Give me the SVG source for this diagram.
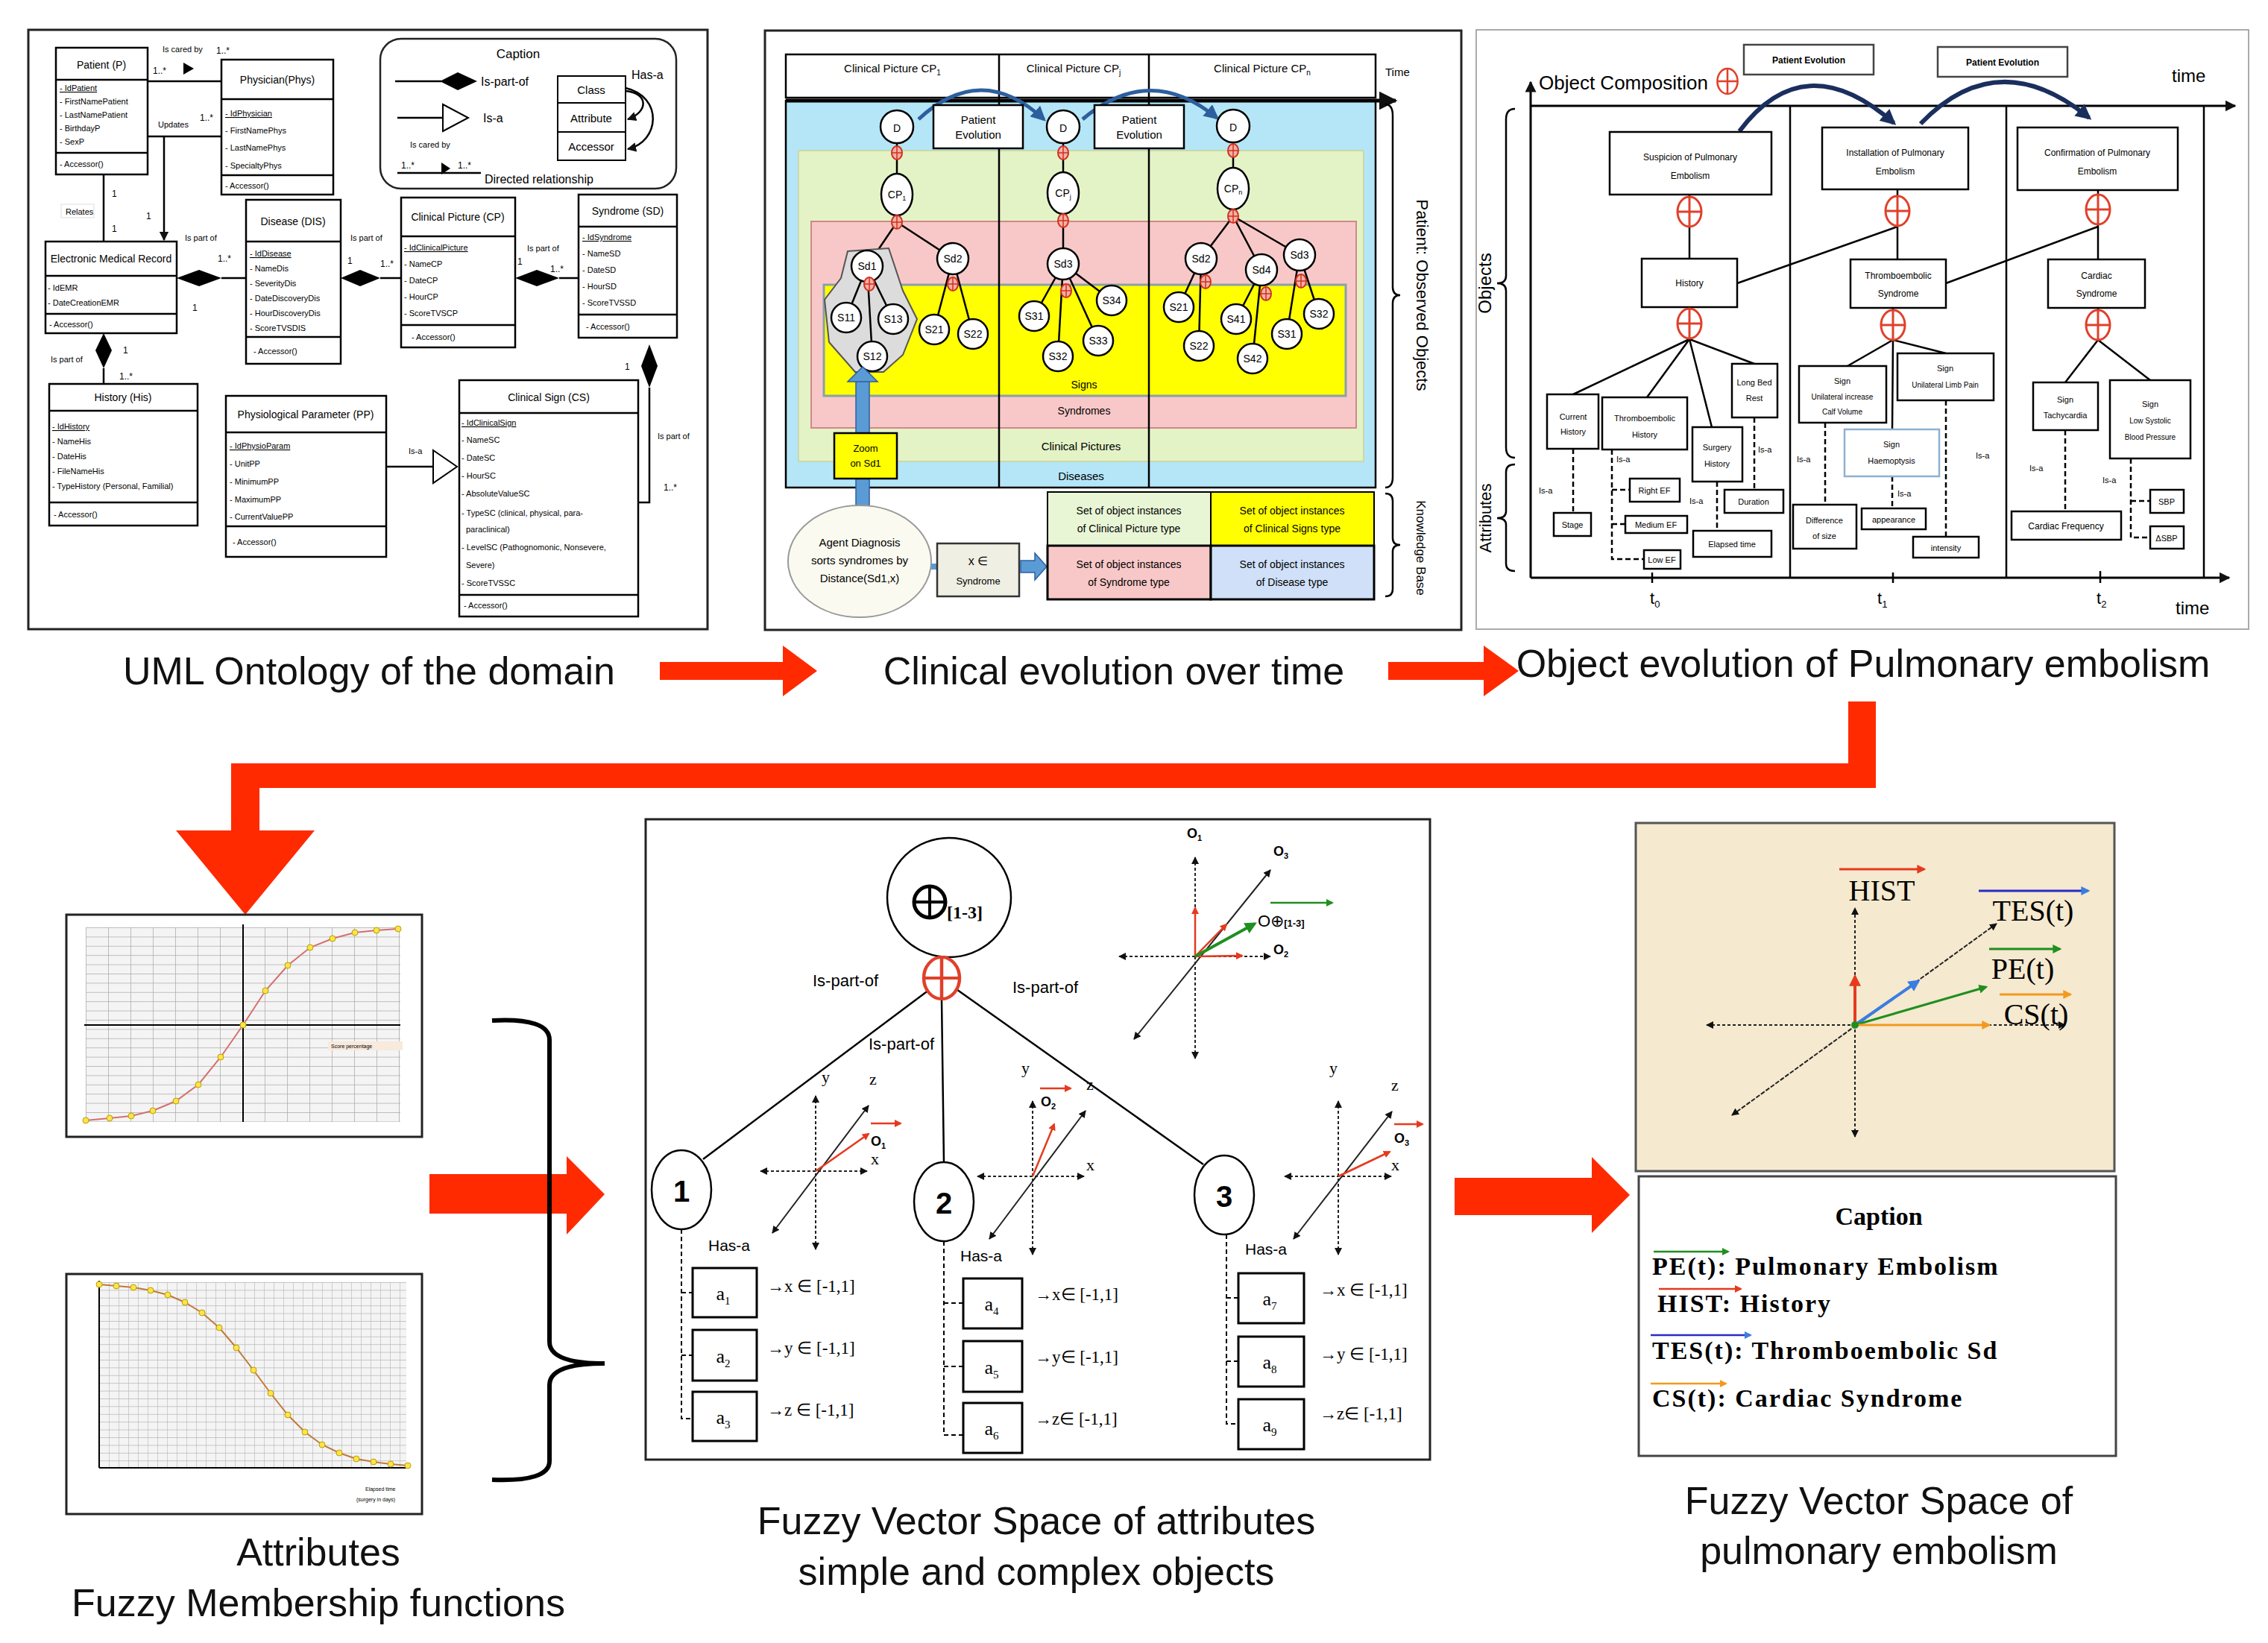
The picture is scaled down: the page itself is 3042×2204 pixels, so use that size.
<svg xmlns="http://www.w3.org/2000/svg" width="3042" height="2204" viewBox="0 0 3042 2204">
<style>
text{font-family:"Liberation Sans",Arial,sans-serif;fill:#000}
.u{font-size:11px}
.uh{font-size:14px;text-anchor:middle}
.m{font-size:11px}
.c{text-anchor:middle}
.box{fill:#fff;stroke:#000;stroke-width:2.5}
.ln{stroke:#000;stroke-width:2.5;fill:none}
.cap{font-size:52px;text-anchor:middle;fill:#111}
.nd{fill:#fff;stroke:#000;stroke-width:2.5}
.sn{font-size:14px;text-anchor:middle}
.p3{font-size:12px;text-anchor:middle}
.ax{stroke:#222;stroke-width:2;stroke-dasharray:4 3;fill:none}
.sf,.sf text{font-family:"Liberation Serif","Times New Roman",serif}
.redarrow{fill:#ff2a00}
</style>
<defs>
<marker id="ah" viewBox="0 0 10 10" refX="9" refY="5" markerWidth="5" markerHeight="5" orient="auto-start-reverse"><path d="M0,0L10,5L0,10z" fill="#111"/></marker>
<marker id="ab" viewBox="0 0 10 10" refX="8" refY="5" markerWidth="4" markerHeight="4" orient="auto"><path d="M0,0L10,5L0,10z" fill="#2d5f9e"/></marker>
<marker id="an" viewBox="0 0 10 10" refX="8" refY="5" markerWidth="3.5" markerHeight="3.5" orient="auto"><path d="M0,0L10,5L0,10z" fill="#1b2f5e"/></marker>
<marker id="ar" viewBox="0 0 10 10" refX="8" refY="5" markerWidth="4" markerHeight="4" orient="auto"><path d="M0,0L10,5L0,10z" fill="#e53a1e"/></marker>
<marker id="ag" viewBox="0 0 10 10" refX="8" refY="5" markerWidth="4" markerHeight="4" orient="auto"><path d="M0,0L10,5L0,10z" fill="#1f8f1f"/></marker>
<marker id="abl" viewBox="0 0 10 10" refX="8" refY="5" markerWidth="4" markerHeight="4" orient="auto"><path d="M0,0L10,5L0,10z" fill="#3a7de0"/></marker>
<marker id="ao" viewBox="0 0 10 10" refX="8" refY="5" markerWidth="4" markerHeight="4" orient="auto"><path d="M0,0L10,5L0,10z" fill="#f39a1e"/></marker>
<g id="op"><ellipse rx="16" ry="20" fill="#fff" stroke="#e0402a" stroke-width="3"/><line x1="-16" y1="0" x2="16" y2="0" stroke="#e0402a" stroke-width="3"/><line x1="0" y1="-20" x2="0" y2="20" stroke="#e0402a" stroke-width="3"/></g>
<g id="sp"><ellipse rx="7" ry="9" fill="#f4b0a8" stroke="#d0301c" stroke-width="2"/><line x1="-7" y1="0" x2="7" y2="0" stroke="#d0301c" stroke-width="1.5"/><line x1="0" y1="-9" x2="0" y2="9" stroke="#d0301c" stroke-width="1.5"/></g>
<pattern id="g1" width="30" height="12.4" patternUnits="userSpaceOnUse" x="115" y="1244"><rect width="30" height="12.4" fill="#f4f4f4"/><path d="M0,0H30M0,0V12.4" stroke="#aaa" stroke-width="1.5"/></pattern>
<pattern id="g2" width="13" height="10.4" patternUnits="userSpaceOnUse" x="133" y="1720"><rect width="13" height="10.4" fill="#f4f4f4"/><path d="M0,0H13M0,0V10.4" stroke="#b5b5b5" stroke-width="1.2"/></pattern>
</defs>

<!-- ============ PANEL 1 UML ============ -->
<g id="panel-uml">
<rect x="38" y="40" width="911" height="804" fill="#fff" stroke="#222" stroke-width="3"/>
<g id="uml-caption">
<rect x="510" y="52" width="397" height="201" rx="28" fill="#fff" stroke="#222" stroke-width="2.5"/>
<text x="695" y="78" class="c" font-size="17">Caption</text>
<line x1="530" y1="109" x2="592" y2="109" class="ln" stroke-width="4"/>
<polygon points="590,109 614,97 640,109 614,121" fill="#000"/>
<text x="645" y="115" font-size="16">Is-part-of</text>
<line x1="533" y1="158" x2="594" y2="158" class="ln"/>
<polygon points="594,140 628,158 594,176" fill="#fff" stroke="#000" stroke-width="2"/>
<text x="648" y="164" font-size="16">Is-a</text>
<text x="550" y="198" font-size="11">Is cared by</text>
<line x1="533" y1="232" x2="645" y2="232" class="ln"/>
<polygon points="592,218 604,226 592,234" fill="#000"/>
<text x="538" y="226" font-size="12">1..*</text>
<text x="614" y="226" font-size="12">1..*</text>
<text x="650" y="246" font-size="16">Directed relationship</text>
<rect x="748" y="102" width="91" height="36" fill="#fff" stroke="#000" stroke-width="2"/>
<rect x="748" y="138" width="91" height="39" fill="#fff" stroke="#000" stroke-width="2"/>
<rect x="748" y="177" width="91" height="38" fill="#fff" stroke="#000" stroke-width="2"/>
<text x="793" y="126" class="c" font-size="15">Class</text>
<text x="793" y="164" class="c" font-size="15">Attribute</text>
<text x="793" y="202" class="c" font-size="15">Accessor</text>
<text x="847" y="106" font-size="16">Has-a</text>
<path d="M839,122 C870,125 870,150 842,160" class="ln" stroke-width="2" marker-end="url(#ah)"/>
<path d="M839,118 C890,130 885,190 842,200" class="ln" stroke-width="2" marker-end="url(#ah)"/>
</g>
<g id="uml-patient">
<rect x="75" y="64" width="123" height="170" class="box"/><line x1="75" y1="107" x2="198" y2="107" class="ln"/><line x1="75" y1="205" x2="198" y2="205" class="ln"/>
<text x="136" y="92" class="uh">Patient (P)</text>
<text x="80" y="122" class="u" text-decoration="underline">- IdPatient</text><text x="80" y="140" class="u">- FirstNamePatient</text><text x="80" y="158" class="u">- LastNamePatient</text><text x="80" y="176" class="u">- BirthdayP</text><text x="80" y="194" class="u">- SexP</text>
<text x="80" y="224" class="m">- Accessor()</text>
</g>
<g id="uml-physician">
<rect x="297" y="80" width="150" height="181" class="box"/><line x1="297" y1="133" x2="447" y2="133" class="ln"/><line x1="297" y1="235" x2="447" y2="235" class="ln"/>
<text x="372" y="112" class="uh">Physician(Phys)</text>
<text x="302" y="156" class="u" text-decoration="underline">- IdPhysician</text><text x="302" y="179" class="u">- FirstNamePhys</text><text x="302" y="202" class="u">- LastNamePhys</text><text x="302" y="226" class="u">- SpecialtyPhys</text>
<text x="302" y="253" class="m">- Accessor()</text>
</g>
<g id="uml-emr">
<rect x="61" y="324" width="176" height="123" class="box"/><line x1="61" y1="370" x2="237" y2="370" class="ln"/><line x1="61" y1="421" x2="237" y2="421" class="ln"/>
<text x="149" y="352" class="uh" font-size="12">Electronic Medical Record</text>
<text x="64" y="390" class="u">- IdEMR</text><text x="64" y="410" class="u">- DateCreationEMR</text>
<text x="66" y="439" class="m">- Accessor()</text>
</g>
<g id="uml-disease">
<rect x="330" y="268" width="127" height="220" class="box"/><line x1="330" y1="324" x2="457" y2="324" class="ln"/><line x1="330" y1="452" x2="457" y2="452" class="ln"/>
<text x="393" y="302" class="uh">Disease (DIS)</text>
<text x="335" y="344" class="u" text-decoration="underline">- IdDisease</text><text x="335" y="364" class="u">- NameDis</text><text x="335" y="384" class="u">- SeverityDis</text><text x="335" y="404" class="u">- DateDiscoveryDis</text><text x="335" y="424" class="u">- HourDiscoveryDis</text><text x="335" y="444" class="u">- ScoreTVSDIS</text>
<text x="340" y="475" class="m">- Accessor()</text>
</g>
<g id="uml-cp">
<rect x="538" y="265" width="153" height="201" class="box"/><line x1="538" y1="317" x2="691" y2="317" class="ln"/><line x1="538" y1="436" x2="691" y2="436" class="ln"/>
<text x="614" y="296" class="uh">Clinical Picture (CP)</text>
<text x="542" y="336" class="u" text-decoration="underline">- IdClinicalPicture</text><text x="542" y="358" class="u">- NameCP</text><text x="542" y="380" class="u">- DateCP</text><text x="542" y="402" class="u">- HourCP</text><text x="542" y="424" class="u">- ScoreTVSCP</text>
<text x="552" y="456" class="m">- Accessor()</text>
</g>
<g id="uml-syndrome">
<rect x="776" y="261" width="132" height="192" class="box"/><line x1="776" y1="304" x2="908" y2="304" class="ln"/><line x1="776" y1="422" x2="908" y2="422" class="ln"/>
<text x="842" y="288" class="uh">Syndrome (SD)</text>
<text x="781" y="322" class="u" text-decoration="underline">- IdSyndrome</text><text x="781" y="344" class="u">- NameSD</text><text x="781" y="366" class="u">- DateSD</text><text x="781" y="388" class="u">- HourSD</text><text x="781" y="410" class="u">- ScoreTVSSD</text>
<text x="786" y="442" class="m">- Accessor()</text>
</g>
<g id="uml-history">
<rect x="66" y="515" width="199" height="190" class="box"/><line x1="66" y1="551" x2="265" y2="551" class="ln"/><line x1="66" y1="674" x2="265" y2="674" class="ln"/>
<text x="165" y="538" class="uh" font-size="13">History (His)</text>
<text x="70" y="576" class="u" text-decoration="underline">- IdHistory</text><text x="70" y="596" class="u">- NameHis</text><text x="70" y="616" class="u">- DateHis</text><text x="70" y="636" class="u">- FileNameHis</text><text x="70" y="656" class="u">- TypeHistory (Personal, Familial)</text>
<text x="72" y="694" class="m">- Accessor()</text>
</g>
<g id="uml-pp">
<rect x="303" y="531" width="215" height="216" class="box"/><line x1="303" y1="580" x2="518" y2="580" class="ln"/><line x1="303" y1="706" x2="518" y2="706" class="ln"/>
<text x="410" y="561" class="uh" font-size="13">Physiological Parameter (PP)</text>
<text x="308" y="602" class="u" text-decoration="underline">- IdPhysioParam</text><text x="308" y="626" class="u">- UnitPP</text><text x="308" y="650" class="u">- MinimumPP</text><text x="308" y="674" class="u">- MaximumPP</text><text x="308" y="697" class="u">- CurrentValuePP</text>
<text x="312" y="731" class="m">- Accessor()</text>
</g>
<g id="uml-cs">
<rect x="616" y="510" width="240" height="317" class="box"/><line x1="616" y1="554" x2="856" y2="554" class="ln"/><line x1="616" y1="798" x2="856" y2="798" class="ln"/>
<text x="736" y="538" class="uh" font-size="13">Clinical Sign (CS)</text>
<text x="619" y="571" class="u" text-decoration="underline">- IdClinicalSign</text><text x="619" y="594" class="u">- NameSC</text><text x="619" y="618" class="u">- DateSC</text><text x="619" y="642" class="u">- HourSC</text><text x="619" y="666" class="u">- AbsoluteValueSC</text><text x="619" y="692" class="u">- TypeSC (clinical, physical, para-</text><text x="625" y="714" class="u">paraclinical)</text><text x="619" y="738" class="u">- LevelSC (Pathognomonic, Nonsevere,</text><text x="625" y="762" class="u">Severe)</text><text x="619" y="786" class="u">- ScoreTVSSC</text>
<text x="622" y="816" class="m">- Accessor()</text>
</g>
<g id="uml-connectors">
<line x1="198" y1="109" x2="297" y2="109" class="ln"/><polygon points="246,84 260,92 246,100" fill="#000"/>
<text x="218" y="70" class="m">Is cared by</text><text x="290" y="72" font-size="12">1..*</text><text x="205" y="99" font-size="12">1..*</text>
<line x1="198" y1="183" x2="297" y2="183" class="ln"/>
<line x1="220" y1="183" x2="220" y2="322" class="ln" stroke-width="2" marker-end="url(#ah)"/>
<rect x="208" y="157" width="46" height="18" fill="#fff"/><text x="212" y="171" class="m">Updates</text>
<text x="268" y="162" font-size="12">1..*</text><text x="196" y="294" font-size="12">1</text>
<line x1="139" y1="234" x2="139" y2="324" class="ln"/>
<rect x="82" y="274" width="44" height="18" fill="#fff" stroke="#ddd"/><text x="88" y="288" class="m">Relates</text>
<text x="150" y="264" font-size="12">1</text><text x="150" y="311" font-size="12">1</text>
<polygon points="237,373 267,362 297,373 267,384" fill="#000"/><line x1="297" y1="373" x2="330" y2="373" class="ln"/>
<text x="248" y="323" class="m">Is part of</text><text x="292" y="351" font-size="12">1..*</text><text x="258" y="417" font-size="12">1</text>
<polygon points="457,373 483,362 510,373 483,384" fill="#000"/><line x1="510" y1="373" x2="538" y2="373" class="ln"/>
<text x="470" y="323" class="m">Is part of</text><text x="466" y="354" font-size="12">1</text><text x="510" y="358" font-size="12">1..*</text>
<polygon points="691,373 720,362 750,373 720,384" fill="#000"/><line x1="750" y1="373" x2="776" y2="373" class="ln"/>
<text x="707" y="337" class="m">Is part of</text><text x="694" y="355" font-size="12">1</text><text x="738" y="365" font-size="12">1..*</text>
<polygon points="139,447 150,470 139,494 128,470" fill="#000"/><line x1="139" y1="494" x2="139" y2="515" class="ln"/>
<text x="68" y="486" class="m">Is part of</text><text x="165" y="474" font-size="12">1</text><text x="160" y="509" font-size="12">1..*</text>
<polygon points="871,462 882,491 871,520 860,491" fill="#000"/><polyline points="871,520 871,674 856,674" class="ln"/>
<text x="838" y="496" font-size="12">1</text><text x="882" y="589" class="m">Is part of</text><text x="890" y="658" font-size="12">1..*</text>
<line x1="518" y1="626" x2="581" y2="626" class="ln"/><polygon points="581,604 613,626 581,648" fill="#fff" stroke="#000" stroke-width="2"/>
<text x="548" y="609" class="m">Is-a</text>
</g>
<text x="495" y="918" class="cap">UML Ontology of the domain</text>
</g>

<!-- ============ PANEL 2 ============ -->
<g id="panel-clinical">
<rect x="1026" y="41" width="934" height="804" fill="#fff" stroke="#222" stroke-width="3"/>
<rect x="1054" y="73" width="791" height="58" fill="#fff" stroke="#000" stroke-width="2.5"/>
<text x="1197" y="97" class="c" font-size="15">Clinical Picture CP<tspan font-size="10" dy="4">1</tspan></text>
<text x="1440" y="97" class="c" font-size="15">Clinical Picture CP<tspan font-size="10" dy="4">j</tspan></text>
<text x="1693" y="97" class="c" font-size="15">Clinical Picture CP<tspan font-size="10" dy="4">n</tspan></text>
<text x="1858" y="102" font-size="15">Time</text>
<rect x="1054" y="135" width="791" height="519" fill="#b4e6f7" stroke="#000" stroke-width="2.5"/>
<rect x="1071" y="202" width="758" height="417" fill="#e3f3c6" stroke="#c9d9a8" stroke-width="2"/>
<rect x="1088" y="297" width="731" height="277" fill="#f8c8c8" stroke="#d08888" stroke-width="2"/>
<rect x="1105" y="382" width="700" height="149" fill="#ffff00" stroke="#8aa0a8" stroke-width="3"/>
<line x1="1054" y1="135" x2="1872" y2="135" stroke="#000" stroke-width="5" marker-end="url(#ah)"/>
<line x1="1340" y1="73" x2="1340" y2="654" stroke="#000" stroke-width="2.5"/>
<line x1="1541" y1="73" x2="1541" y2="654" stroke="#000" stroke-width="2.5"/>
<text x="1454" y="521" class="c" font-size="14">Signs</text>
<text x="1454" y="556" class="c" font-size="14">Syndromes</text>
<text x="1450" y="604" class="c" font-size="15">Clinical Pictures</text>
<text x="1450" y="644" class="c" font-size="15">Diseases</text>
<g id="p2-links" class="ln" stroke-width="2.5">
<line x1="1203" y1="170" x2="1203" y2="261"/><line x1="1426" y1="170" x2="1426" y2="259"/><line x1="1654" y1="169" x2="1654" y2="253"/>
<line x1="1203" y1="298" x2="1163" y2="357"/><line x1="1203" y1="298" x2="1278" y2="347"/>
<line x1="1426" y1="296" x2="1426" y2="354"/>
<line x1="1654" y1="290" x2="1611" y2="347"/><line x1="1654" y1="290" x2="1692" y2="362"/><line x1="1654" y1="290" x2="1743" y2="342"/>
<line x1="1278" y1="347" x2="1253" y2="442"/><line x1="1278" y1="347" x2="1305" y2="448"/>
<line x1="1426" y1="354" x2="1387" y2="424"/><line x1="1426" y1="354" x2="1491" y2="403"/><line x1="1426" y1="354" x2="1473" y2="457"/><line x1="1426" y1="354" x2="1419" y2="478"/>
<line x1="1611" y1="347" x2="1581" y2="412"/><line x1="1611" y1="347" x2="1608" y2="464"/>
<line x1="1692" y1="362" x2="1658" y2="428"/><line x1="1692" y1="362" x2="1680" y2="481"/>
<line x1="1743" y1="342" x2="1726" y2="448"/><line x1="1743" y1="342" x2="1769" y2="421"/>
</g>
<polygon points="1137,337 1192,333 1211,390 1230,428 1211,476 1185,499 1147,499 1112,459 1106,402 1128,373" fill="#dcdcdc" stroke="#555" stroke-width="2"/>
<g class="ln" stroke-width="2"><line x1="1163" y1="357" x2="1135" y2="426"/><line x1="1163" y1="357" x2="1198" y2="428"/><line x1="1163" y1="357" x2="1170" y2="478"/></g>
<path d="M1232,160 Q1316,82 1400,160" fill="none" stroke="#2d5f9e" stroke-width="5" marker-end="url(#ab)"/>
<path d="M1452,160 Q1542,84 1632,158" fill="none" stroke="#2d5f9e" stroke-width="5" marker-end="url(#ab)"/>
<g id="p2-evo">
<rect x="1252" y="141" width="120" height="58" fill="#fff" stroke="#000" stroke-width="2.5"/><text x="1312" y="166" class="c" font-size="15">Patient</text><text x="1312" y="186" class="c" font-size="15">Evolution</text>
<rect x="1468" y="141" width="120" height="58" fill="#fff" stroke="#000" stroke-width="2.5"/><text x="1528" y="166" class="c" font-size="15">Patient</text><text x="1528" y="186" class="c" font-size="15">Evolution</text>
</g>
<g id="p2-nodes">
<circle cx="1203" cy="170" r="22" class="nd"/><text x="1203" y="177" class="sn" font-size="17">D</text>
<circle cx="1426" cy="170" r="22" class="nd"/><text x="1426" y="177" class="sn" font-size="17">D</text>
<circle cx="1654" cy="169" r="22" class="nd"/><text x="1654" y="176" class="sn" font-size="17">D</text>
<ellipse cx="1203" cy="261" rx="21" ry="28" class="nd"/><text x="1203" y="266" class="sn">CP<tspan font-size="9" dy="3">1</tspan></text>
<ellipse cx="1426" cy="259" rx="21" ry="28" class="nd"/><text x="1426" y="264" class="sn">CP<tspan font-size="9" dy="3">j</tspan></text>
<ellipse cx="1654" cy="253" rx="21" ry="28" class="nd"/><text x="1654" y="258" class="sn">CP<tspan font-size="9" dy="3">n</tspan></text>
<circle cx="1163" cy="357" r="21" class="nd"/><text x="1163" y="362" class="sn">Sd1</text>
<circle cx="1278" cy="347" r="21" class="nd"/><text x="1278" y="352" class="sn">Sd2</text>
<circle cx="1426" cy="354" r="21" class="nd"/><text x="1426" y="359" class="sn">Sd3</text>
<circle cx="1611" cy="347" r="21" class="nd"/><text x="1611" y="352" class="sn">Sd2</text>
<circle cx="1692" cy="362" r="21" class="nd"/><text x="1692" y="367" class="sn">Sd4</text>
<circle cx="1743" cy="342" r="21" class="nd"/><text x="1743" y="347" class="sn">Sd3</text>
<circle cx="1135" cy="426" r="20" class="nd"/><text x="1135" y="431" class="sn">S11</text>
<circle cx="1198" cy="428" r="20" class="nd"/><text x="1198" y="433" class="sn">S13</text>
<circle cx="1170" cy="478" r="20" class="nd"/><text x="1170" y="483" class="sn">S12</text>
<circle cx="1253" cy="442" r="20" class="nd"/><text x="1253" y="447" class="sn">S21</text>
<circle cx="1305" cy="448" r="20" class="nd"/><text x="1305" y="453" class="sn">S22</text>
<circle cx="1387" cy="424" r="20" class="nd"/><text x="1387" y="429" class="sn">S31</text>
<circle cx="1491" cy="403" r="20" class="nd"/><text x="1491" y="408" class="sn">S34</text>
<circle cx="1473" cy="457" r="20" class="nd"/><text x="1473" y="462" class="sn">S33</text>
<circle cx="1419" cy="478" r="20" class="nd"/><text x="1419" y="483" class="sn">S32</text>
<circle cx="1581" cy="412" r="20" class="nd"/><text x="1581" y="417" class="sn">S21</text>
<circle cx="1608" cy="464" r="20" class="nd"/><text x="1608" y="469" class="sn">S22</text>
<circle cx="1658" cy="428" r="20" class="nd"/><text x="1658" y="433" class="sn">S41</text>
<circle cx="1680" cy="481" r="20" class="nd"/><text x="1680" y="486" class="sn">S42</text>
<circle cx="1726" cy="448" r="20" class="nd"/><text x="1726" y="453" class="sn">S31</text>
<circle cx="1769" cy="421" r="20" class="nd"/><text x="1769" y="426" class="sn">S32</text>
</g>
<g id="p2-plus">
<use href="#sp" x="1203" y="205"/><use href="#sp" x="1426" y="205"/><use href="#sp" x="1654" y="202"/>
<use href="#sp" x="1203" y="298"/><use href="#sp" x="1426" y="296"/><use href="#sp" x="1654" y="290"/>
<use href="#sp" x="1166" y="381"/><use href="#sp" x="1278" y="381"/><use href="#sp" x="1430" y="390"/><use href="#sp" x="1617" y="378"/><use href="#sp" x="1698" y="394"/><use href="#sp" x="1745" y="377"/>
</g>
<rect x="1148" y="500" width="18" height="82" fill="#5b9bd5" stroke="#2d5f9e" stroke-width="1.5"/>
<rect x="1148" y="642" width="18" height="38" fill="#5b9bd5" stroke="#2d5f9e" stroke-width="1.5"/>
<polygon points="1137,512 1157,492 1177,512" fill="#5b9bd5" stroke="#2d5f9e" stroke-width="1.5"/>
<g id="p2-zoom"><rect x="1119" y="581" width="84" height="61" fill="#ffff00" stroke="#000" stroke-width="2.5"/><text x="1161" y="606" class="c" font-size="13">Zoom</text><text x="1161" y="626" class="c" font-size="13">on Sd1</text></g>
<g id="p2-agent"><ellipse cx="1153" cy="753" rx="96" ry="75" fill="#fbfaf0" stroke="#999" stroke-width="2"/>
<text x="1153" y="733" class="c" font-size="15">Agent Diagnosis</text><text x="1153" y="757" class="c" font-size="15">sorts syndromes by</text><text x="1153" y="781" class="c" font-size="15">Distance(Sd1,x)</text></g>
<line x1="1249" y1="760" x2="1257" y2="760" stroke="#5b9bd5" stroke-width="8"/>
<g id="p2-x"><rect x="1257" y="729" width="110" height="71" fill="#efefe4" stroke="#333" stroke-width="2.5"/><text x="1312" y="758" class="c" font-size="16">x ∈</text><text x="1312" y="784" class="c" font-size="13">Syndrome</text></g>
<polygon points="1369,752 1388,752 1388,742 1404,760 1388,778 1388,768 1369,768" fill="#5b9bd5" stroke="#2d5f9e" stroke-width="1.5"/>
<g id="p2-table">
<rect x="1405" y="660" width="219" height="72" fill="#e8f6d6" stroke="#000" stroke-width="2"/>
<rect x="1624" y="660" width="219" height="72" fill="#ffff00" stroke="#000" stroke-width="2"/>
<rect x="1405" y="732" width="219" height="72" fill="#f8c8c8" stroke="#000" stroke-width="3"/>
<rect x="1624" y="732" width="219" height="72" fill="#cfe0f8" stroke="#000" stroke-width="3"/>
<text x="1514" y="690" class="c" font-size="14">Set of object instances</text><text x="1514" y="714" class="c" font-size="14">of Clinical Picture type</text>
<text x="1733" y="690" class="c" font-size="14">Set of object instances</text><text x="1733" y="714" class="c" font-size="14">of Clinical Signs type</text>
<text x="1514" y="762" class="c" font-size="14">Set of object instances</text><text x="1514" y="786" class="c" font-size="14">of Syndrome type</text>
<text x="1733" y="762" class="c" font-size="14">Set of object instances</text><text x="1733" y="786" class="c" font-size="14">of Disease type</text>
</g>
<path d="M1858,140 Q1868,140 1868,155 L1868,385 Q1868,396 1878,396 Q1868,396 1868,407 L1868,640 Q1868,654 1858,654" class="ln"/>
<path d="M1858,662 Q1868,662 1868,672 L1868,722 Q1868,731 1878,731 Q1868,731 1868,740 L1868,790 Q1868,800 1858,800" class="ln"/>
<text transform="translate(1900,396) rotate(90)" class="c" font-size="22">Patient: Observed Objects</text>
<text transform="translate(1900,735) rotate(90)" class="c" font-size="17">Knowledge Base</text>
<text x="1494" y="918" class="cap">Clinical evolution over time</text>
</g>

<!-- ============ PANEL 3 ============ -->
<g id="panel-object-evolution">
<rect x="1980" y="40" width="1036" height="804" fill="#fff" stroke="#aaa" stroke-width="2"/>
<line x1="2053" y1="775" x2="2053" y2="110" stroke="#000" stroke-width="3" marker-end="url(#ah)"/>
<line x1="2053" y1="142" x2="2998" y2="142" stroke="#000" stroke-width="3" marker-end="url(#ah)"/>
<line x1="2053" y1="775" x2="2990" y2="775" stroke="#000" stroke-width="3" marker-end="url(#ah)"/>
<line x1="2401" y1="142" x2="2401" y2="775" stroke="#000" stroke-width="2.5"/>
<line x1="2691" y1="142" x2="2691" y2="775" stroke="#000" stroke-width="2.5"/>
<line x1="2956" y1="142" x2="2956" y2="775" stroke="#000" stroke-width="2.5"/>
<g stroke="#000" stroke-width="2.5"><line x1="2216" y1="768" x2="2216" y2="782"/><line x1="2539" y1="768" x2="2539" y2="782"/><line x1="2817" y1="766" x2="2817" y2="782"/></g>
<text x="2213" y="810" font-size="22">t<tspan font-size="13" dy="5">0</tspan></text>
<text x="2518" y="810" font-size="22">t<tspan font-size="13" dy="5">1</tspan></text>
<text x="2812" y="810" font-size="22">t<tspan font-size="13" dy="5">2</tspan></text>
<text x="2918" y="824" font-size="24">time</text>
<text x="2913" y="110" font-size="24">time</text>
<text x="2064" y="120" font-size="26">Object Composition</text>
<use href="#op" transform="translate(2317,109) scale(0.85)"/>
<path d="M2032,146 Q2020,146 2020,160 L2020,370 Q2020,380 2008,380 Q2020,380 2020,390 L2020,600 Q2020,614 2032,614" class="ln"/>
<path d="M2032,623 Q2020,623 2020,633 L2020,686 Q2020,695 2008,695 Q2020,695 2020,704 L2020,756 Q2020,766 2032,766" class="ln"/>
<text transform="translate(2000,380) rotate(-90)" class="c" font-size="24">Objects</text>
<text transform="translate(2000,695) rotate(-90)" class="c" font-size="22">Attributes</text>
<g id="p3-evo">
<rect x="2339" y="60" width="174" height="40" fill="#fff" stroke="#444" stroke-width="2.5"/><text x="2426" y="85" class="p3" font-weight="bold">Patient Evolution</text>
<rect x="2599" y="63" width="174" height="40" fill="#fff" stroke="#444" stroke-width="2.5"/><text x="2686" y="88" class="p3" font-weight="bold">Patient Evolution</text>
</g>
<path d="M2333,176 Q2420,60 2540,165" fill="none" stroke="#1b2f5e" stroke-width="6" marker-end="url(#an)"/>
<path d="M2576,166 Q2680,58 2802,158" fill="none" stroke="#1b2f5e" stroke-width="6" marker-end="url(#an)"/>
<g id="p3-lines" class="ln" stroke-width="3">
<line x1="2266" y1="261" x2="2266" y2="347"/><line x1="2545" y1="254" x2="2545" y2="348"/><line x1="2814" y1="255" x2="2814" y2="348"/>
<line x1="2330" y1="380" x2="2545" y2="304"/><line x1="2610" y1="380" x2="2814" y2="304"/>
<line x1="2266" y1="412" x2="2266" y2="455"/><line x1="2539" y1="413" x2="2539" y2="456"/><line x1="2814" y1="413" x2="2814" y2="456"/>
<line x1="2266" y1="455" x2="2110" y2="529"/><line x1="2266" y1="455" x2="2209" y2="533"/><line x1="2266" y1="455" x2="2296" y2="573"/><line x1="2266" y1="455" x2="2353" y2="488"/>
<line x1="2539" y1="456" x2="2478" y2="491"/><line x1="2539" y1="456" x2="2538" y2="576"/><line x1="2539" y1="456" x2="2610" y2="474"/>
<line x1="2814" y1="456" x2="2770" y2="513"/><line x1="2814" y1="456" x2="2884" y2="510"/>
</g>
<g id="p3-dash" fill="none" stroke="#000" stroke-width="2.5" stroke-dasharray="7 4">
<line x1="2110" y1="602" x2="2110" y2="688"/>
<polyline points="2162,603 2162,750 2205,750"/><line x1="2162" y1="657" x2="2186" y2="657"/><line x1="2162" y1="703" x2="2180" y2="703"/>
<line x1="2303" y1="646" x2="2303" y2="712"/><line x1="2353" y1="560" x2="2353" y2="657"/>
<line x1="2448" y1="567" x2="2448" y2="677"/><line x1="2538" y1="639" x2="2538" y2="682"/><line x1="2610" y1="537" x2="2610" y2="720"/>
<line x1="2770" y1="577" x2="2770" y2="686"/>
<polyline points="2858,615 2858,721 2884,721"/><line x1="2858" y1="672" x2="2884" y2="672"/>
</g>
<g id="p3-isa" font-size="11">
<text x="2064" y="662">Is-a</text><text x="2168" y="620">Is-a</text><text x="2266" y="676">Is-a</text><text x="2358" y="607">Is-a</text><text x="2410" y="620">Is-a</text><text x="2545" y="666">Is-a</text><text x="2650" y="615">Is-a</text><text x="2722" y="632">Is-a</text><text x="2820" y="648">Is-a</text>
</g>
<g id="p3-boxes" fill="#fff" stroke="#000" stroke-width="2.5">
<rect x="2159" y="177" width="217" height="84"/><rect x="2444" y="171" width="196" height="83"/><rect x="2706" y="171" width="215" height="84"/>
<rect x="2202" y="347" width="128" height="65"/><rect x="2482" y="348" width="128" height="65"/><rect x="2747" y="348" width="130" height="65"/>
<rect x="2075" y="529" width="69" height="73"/><rect x="2149" y="533" width="114" height="70"/><rect x="2270" y="573" width="67" height="73"/><rect x="2323" y="488" width="61" height="72"/>
<rect x="2084" y="688" width="50" height="31"/><rect x="2186" y="642" width="67" height="31"/><rect x="2180" y="692" width="83" height="23"/><rect x="2205" y="738" width="49" height="25"/><rect x="2271" y="712" width="105" height="35"/><rect x="2313" y="657" width="79" height="31"/>
<rect x="2413" y="491" width="117" height="76"/><rect x="2545" y="474" width="129" height="63"/><rect x="2474" y="576" width="127" height="63" stroke="#8fb0d0"/>
<rect x="2405" y="677" width="85" height="59"/><rect x="2497" y="682" width="86" height="28"/><rect x="2566" y="720" width="88" height="28"/>
<rect x="2727" y="513" width="87" height="64"/><rect x="2830" y="510" width="108" height="105"/>
<rect x="2698" y="686" width="147" height="38"/><rect x="2884" y="657" width="45" height="31"/><rect x="2884" y="706" width="45" height="30"/>
</g>
<g id="p3-text" class="p3">
<text x="2267" y="215">Suspicion of Pulmonary</text><text x="2267" y="240">Embolism</text>
<text x="2542" y="209">Installation of Pulmonary</text><text x="2542" y="234">Embolism</text>
<text x="2813" y="209">Confirmation of Pulmonary</text><text x="2813" y="234">Embolism</text>
<text x="2266" y="384">History</text>
<text x="2546" y="374">Thromboembolic</text><text x="2546" y="398">Syndrome</text>
<text x="2812" y="374">Cardiac</text><text x="2812" y="398">Syndrome</text>
<text x="2110" y="563" font-size="11">Current</text><text x="2110" y="583" font-size="11">History</text>
<text x="2206" y="565" font-size="11">Thromboembolic</text><text x="2206" y="587" font-size="11">History</text>
<text x="2303" y="604" font-size="11">Surgery</text><text x="2303" y="626" font-size="11">History</text>
<text x="2353" y="517" font-size="11">Long Bed</text><text x="2353" y="538" font-size="11">Rest</text>
<text x="2109" y="708" font-size="11">Stage</text><text x="2219" y="662" font-size="11">Right EF</text><text x="2221" y="708" font-size="11">Medium EF</text><text x="2229" y="755" font-size="11">Low EF</text>
<text x="2323" y="734" font-size="11">Elapsed time</text><text x="2352" y="677" font-size="11">Duration</text>
<text x="2471" y="515" font-size="11">Sign</text><text x="2471" y="536" font-size="10">Unilateral increase</text><text x="2471" y="556" font-size="10">Calf Volume</text>
<text x="2609" y="498" font-size="11">Sign</text><text x="2609" y="520" font-size="10">Unilateral Limb Pain</text>
<text x="2537" y="600" font-size="11">Sign</text><text x="2537" y="622" font-size="11">Haemoptysis</text>
<text x="2447" y="702" font-size="11">Difference</text><text x="2447" y="723" font-size="11">of size</text>
<text x="2540" y="701" font-size="11">appearance</text><text x="2610" y="739" font-size="11">intensity</text>
<text x="2770" y="540" font-size="11">Sign</text><text x="2770" y="561" font-size="11">Tachycardia</text>
<text x="2884" y="546" font-size="11">Sign</text><text x="2884" y="568" font-size="10">Low Systolic</text><text x="2884" y="590" font-size="10">Blood Pressure</text>
<text x="2771" y="710" font-size="12">Cardiac Frequency</text><text x="2906" y="677" font-size="11">SBP</text><text x="2906" y="726" font-size="11">ΔSBP</text>
</g>
<use href="#op" x="2266" y="284"/><use href="#op" x="2545" y="283"/><use href="#op" x="2814" y="281"/>
<use href="#op" x="2266" y="434"/><use href="#op" x="2539" y="436"/><use href="#op" x="2814" y="436"/>
<text x="2499" y="908" class="cap" font-size="41">Object evolution of Pulmonary embolism</text>
</g>

<!-- ============ RED ARROWS ============ -->
<g id="red-arrows" class="redarrow">
<polygon points="885,888 1050,888 1050,866 1096,900 1050,934 1050,912 885,912"/>
<polygon points="1862,888 1990,888 1990,866 2037,900 1990,934 1990,912 1862,912"/>
<polygon points="2479,941 2516,941 2516,1057 348,1057 348,1114 422,1114 329,1227 236,1114 310,1114 310,1024 2479,1024"/>
<polygon points="576,1575 760,1575 760,1551 811,1602 760,1656 760,1628 576,1628"/>
<polygon points="1951,1580 2135,1580 2135,1552 2186,1603 2135,1654 2135,1630 1951,1630"/>
</g>

<!-- ============ PANEL 4 charts ============ -->
<g id="chart-1">
<rect x="89" y="1227" width="477" height="298" fill="#fff" stroke="#222" stroke-width="3"/>
<rect x="115" y="1244" width="422" height="261" fill="url(#g1)"/>
<line x1="326" y1="1240" x2="326" y2="1505" stroke="#000" stroke-width="2"/>
<line x1="113" y1="1375" x2="537" y2="1375" stroke="#000" stroke-width="2"/>
<rect x="440" y="1397" width="100" height="12" fill="#f8eadc"/><text x="444" y="1406" font-size="7">Score percentage</text>
<polyline points="115,1503 147,1500 176,1497 205,1490 236,1477 266,1455 296,1418 326,1375 356,1329 386,1295 416,1271 446,1259 476,1251 505,1248 534,1246" fill="none" stroke="#d4706e" stroke-width="2"/>
<g fill="#ffe34a" stroke="#b8a000" stroke-width="1"><circle cx="115" cy="1503" r="4"/><circle cx="147" cy="1500" r="4"/><circle cx="176" cy="1497" r="4"/><circle cx="205" cy="1490" r="4"/><circle cx="236" cy="1477" r="4"/><circle cx="266" cy="1455" r="4"/><circle cx="296" cy="1418" r="4"/><circle cx="326" cy="1375" r="4"/><circle cx="356" cy="1329" r="4"/><circle cx="386" cy="1295" r="4"/><circle cx="416" cy="1271" r="4"/><circle cx="446" cy="1259" r="4"/><circle cx="476" cy="1251" r="4"/><circle cx="505" cy="1248" r="4"/><circle cx="534" cy="1246" r="4"/></g>
</g>
<g id="chart-2">
<rect x="89" y="1709" width="477" height="322" fill="#fff" stroke="#222" stroke-width="3"/>
<rect x="133" y="1720" width="412" height="249" fill="url(#g2)"/>
<line x1="133" y1="1718" x2="133" y2="1969" stroke="#000" stroke-width="2"/>
<line x1="133" y1="1969" x2="548" y2="1969" stroke="#000" stroke-width="2"/>
<text x="490" y="2000" font-size="7">Elapsed time</text><text x="478" y="2014" font-size="7">(surgery in days)</text>
<polyline points="133,1723 156,1725 179,1727 202,1731 225,1737 248,1747 271,1761 294,1781 317,1808 340,1838 363,1869 386,1898 409,1921 432,1938 455,1949 478,1957 501,1961 524,1964 547,1966" fill="none" stroke="#c07a3a" stroke-width="2"/>
<g fill="#ffe34a" stroke="#b8a000" stroke-width="1"><circle cx="133" cy="1723" r="4"/><circle cx="156" cy="1725" r="4"/><circle cx="179" cy="1727" r="4"/><circle cx="202" cy="1731" r="4"/><circle cx="225" cy="1737" r="4"/><circle cx="248" cy="1747" r="4"/><circle cx="271" cy="1761" r="4"/><circle cx="294" cy="1781" r="4"/><circle cx="317" cy="1808" r="4"/><circle cx="340" cy="1838" r="4"/><circle cx="363" cy="1869" r="4"/><circle cx="386" cy="1898" r="4"/><circle cx="409" cy="1921" r="4"/><circle cx="432" cy="1938" r="4"/><circle cx="455" cy="1949" r="4"/><circle cx="478" cy="1957" r="4"/><circle cx="501" cy="1961" r="4"/><circle cx="524" cy="1964" r="4"/><circle cx="547" cy="1966" r="4"/></g>
</g>
<path d="M660,1369 Q737,1365 737,1395 L737,1800 Q737,1829 811,1829 Q737,1829 737,1858 L737,1960 Q737,1988 660,1985" fill="none" stroke="#000" stroke-width="6"/>
<text x="427" y="2100" class="cap">Attributes</text>
<text x="427" y="2168" class="cap">Fuzzy Membership functions</text>

<!-- ============ PANEL 5 ============ -->
<g id="panel-fuzzy-attrs">
<rect x="866" y="1099" width="1052" height="859" fill="#fff" stroke="#222" stroke-width="3"/>
<g id="p5-links" class="ln" stroke-width="4">
<line x1="1250" y1="1325" x2="943" y2="1555"/><line x1="1263" y1="1340" x2="1266" y2="1559"/><line x1="1280" y1="1325" x2="1614" y2="1562"/>
</g>
<g id="p5-root"><ellipse cx="1273" cy="1204" rx="83" ry="80" class="nd"/>
<circle cx="1247" cy="1210" r="21" fill="none" stroke="#000" stroke-width="5"/><line x1="1226" y1="1210" x2="1268" y2="1210" stroke="#000" stroke-width="4"/><line x1="1247" y1="1189" x2="1247" y2="1231" stroke="#000" stroke-width="4"/>
<text x="1270" y="1232" font-size="24" font-weight="bold" class="sf">[1-3]</text></g>
<use href="#op" transform="translate(1263,1312) scale(1.5,1.4)"/>
<text x="1090" y="1323" font-size="22" fill="#333">Is-part-of</text>
<text x="1358" y="1332" font-size="22" fill="#333">Is-part-of</text>
<text x="1165" y="1408" font-size="22" fill="#333">Is-part-of</text>
<g id="p5-n1"><ellipse cx="914" cy="1596" rx="40" ry="53" class="nd"/><text x="914" y="1612" class="c" font-size="40" font-weight="bold">1</text></g>
<g id="p5-n2"><ellipse cx="1266" cy="1612" rx="40" ry="53" class="nd"/><text x="1266" y="1628" class="c" font-size="40" font-weight="bold">2</text></g>
<g id="p5-n3"><ellipse cx="1642" cy="1603" rx="40" ry="53" class="nd"/><text x="1642" y="1619" class="c" font-size="40" font-weight="bold">3</text></g>
<g class="ax">
<line x1="1094" y1="1676" x2="1094" y2="1470" marker-start="url(#ah)" marker-end="url(#ah)"/><line x1="1020" y1="1571" x2="1163" y2="1571" marker-start="url(#ah)" marker-end="url(#ah)"/>
<line x1="1385" y1="1683" x2="1385" y2="1477" marker-start="url(#ah)" marker-end="url(#ah)"/><line x1="1311" y1="1578" x2="1454" y2="1578" marker-start="url(#ah)" marker-end="url(#ah)"/>
<line x1="1795" y1="1683" x2="1795" y2="1477" marker-start="url(#ah)" marker-end="url(#ah)"/><line x1="1723" y1="1578" x2="1866" y2="1578" marker-start="url(#ah)" marker-end="url(#ah)"/>
<line x1="1603" y1="1420" x2="1603" y2="1150" marker-start="url(#ah)" marker-end="url(#ah)"/><line x1="1501" y1="1283" x2="1704" y2="1283" marker-start="url(#ah)" marker-end="url(#ah)"/>
</g>
<g stroke="#222" stroke-width="2" fill="none">
<line x1="1036" y1="1654" x2="1165" y2="1483" marker-start="url(#ah)" marker-end="url(#ah)"/>
<line x1="1327" y1="1662" x2="1456" y2="1490" marker-start="url(#ah)" marker-end="url(#ah)"/>
<line x1="1735" y1="1662" x2="1867" y2="1491" marker-start="url(#ah)" marker-end="url(#ah)"/>
<line x1="1521" y1="1394" x2="1704" y2="1167" marker-start="url(#ah)" marker-end="url(#ah)"/>
</g>
<g stroke="#e53a1e" stroke-width="2.5" fill="none">
<line x1="1094" y1="1571" x2="1165" y2="1521" marker-end="url(#ar)"/>
<line x1="1385" y1="1578" x2="1414" y2="1508" marker-end="url(#ar)"/>
<line x1="1795" y1="1578" x2="1864" y2="1545" marker-end="url(#ar)"/>
<line x1="1603" y1="1283" x2="1603" y2="1218" marker-end="url(#ar)"/>
<line x1="1603" y1="1283" x2="1645" y2="1240" marker-end="url(#ar)"/>
<line x1="1603" y1="1283" x2="1666" y2="1282" marker-end="url(#ar)"/>
<line x1="1168" y1="1507" x2="1208" y2="1507" marker-end="url(#ar)"/>
<line x1="1395" y1="1460" x2="1436" y2="1460" marker-end="url(#ar)"/>
<line x1="1870" y1="1508" x2="1908" y2="1508" marker-end="url(#ar)"/>
</g>
<line x1="1603" y1="1283" x2="1683" y2="1239" stroke="#1f8f1f" stroke-width="4" marker-end="url(#ag)"/>
<line x1="1704" y1="1211" x2="1787" y2="1211" stroke="#1f8f1f" stroke-width="2.5" marker-end="url(#ag)"/>
<g class="sf" font-size="22">
<text x="1102" y="1452">y</text><text x="1166" y="1455">z</text><text x="1168" y="1562">x</text>
<text x="1370" y="1440">y</text><text x="1457" y="1462">z</text><text x="1457" y="1570">x</text>
<text x="1783" y="1440">y</text><text x="1866" y="1463">z</text><text x="1866" y="1570">x</text>
</g>
<g font-weight="bold" font-size="18">
<text x="1168" y="1537" fill="#e53a1e">O<tspan font-size="11" dy="4">1</tspan></text>
<text x="1396" y="1484" fill="#e53a1e">O<tspan font-size="11" dy="4">2</tspan></text>
<text x="1870" y="1533" fill="#e53a1e">O<tspan font-size="11" dy="4">3</tspan></text>
<text x="1592" y="1124">O<tspan font-size="11" dy="4">1</tspan></text>
<text x="1708" y="1148">O<tspan font-size="11" dy="4">3</tspan></text>
<text x="1708" y="1280">O<tspan font-size="11" dy="4">2</tspan></text>
</g>
<text x="1687" y="1243" font-size="22">O⊕<tspan font-size="13" font-weight="bold">[1-3]</tspan></text>
<text x="950" y="1678" font-size="21" fill="#333">Has-a</text>
<text x="1288" y="1692" font-size="21" fill="#333">Has-a</text>
<text x="1670" y="1683" font-size="21" fill="#333">Has-a</text>
<g fill="none" stroke="#000" stroke-width="2" stroke-dasharray="6 4">
<polyline points="914,1649 914,1903 929,1903"/><line x1="914" y1="1734" x2="929" y2="1734"/><line x1="914" y1="1818" x2="929" y2="1818"/>
<polyline points="1266,1665 1266,1925 1292,1925"/><line x1="1266" y1="1748" x2="1292" y2="1748"/><line x1="1266" y1="1833" x2="1292" y2="1833"/>
<polyline points="1645,1656 1645,1910 1661,1910"/><line x1="1645" y1="1741" x2="1661" y2="1741"/><line x1="1645" y1="1826" x2="1661" y2="1826"/>
</g>
<g fill="#fff" stroke="#000" stroke-width="3">
<rect x="929" y="1701" width="86" height="66"/><rect x="929" y="1784" width="86" height="68"/><rect x="929" y="1867" width="86" height="66"/>
<rect x="1292" y="1715" width="79" height="67"/><rect x="1292" y="1799" width="79" height="68"/><rect x="1292" y="1882" width="79" height="67"/>
<rect x="1661" y="1708" width="88" height="67"/><rect x="1661" y="1793" width="88" height="67"/><rect x="1661" y="1877" width="88" height="67"/>
</g>
<g class="sf" font-size="26" text-anchor="middle">
<text x="970" y="1744">a<tspan font-size="15" dy="6">1</tspan></text><text x="970" y="1828">a<tspan font-size="15" dy="6">2</tspan></text><text x="970" y="1910">a<tspan font-size="15" dy="6">3</tspan></text>
<text x="1330" y="1758">a<tspan font-size="15" dy="6">4</tspan></text><text x="1330" y="1843">a<tspan font-size="15" dy="6">5</tspan></text><text x="1330" y="1925">a<tspan font-size="15" dy="6">6</tspan></text>
<text x="1703" y="1751">a<tspan font-size="15" dy="6">7</tspan></text><text x="1703" y="1836">a<tspan font-size="15" dy="6">8</tspan></text><text x="1703" y="1920">a<tspan font-size="15" dy="6">9</tspan></text>
</g>
<g class="sf" font-size="23">
<text x="1029" y="1733">→x ∈ [-1,1]</text><text x="1029" y="1816">→y ∈ [-1,1]</text><text x="1029" y="1899">→z ∈ [-1,1]</text>
<text x="1388" y="1744">→x∈ [-1,1]</text><text x="1388" y="1828">→y∈ [-1,1]</text><text x="1388" y="1911">→z∈ [-1,1]</text>
<text x="1770" y="1738">→x ∈ [-1,1]</text><text x="1770" y="1824">→y ∈ [-1,1]</text><text x="1770" y="1904">→z∈ [-1,1]</text>
</g>
<text x="1390" y="2058" class="cap">Fuzzy Vector Space of  attributes</text>
<text x="1390" y="2126" class="cap">simple and complex objects</text>
</g>

<!-- ============ PANEL 6 ============ -->
<g id="panel-fuzzy-pe">
<rect x="2194" y="1104" width="642" height="467" fill="#f5e9cf" stroke="#555" stroke-width="3"/>
<g class="ax" stroke-width="2">
<line x1="2488" y1="1525" x2="2488" y2="1218" marker-start="url(#ah)" marker-end="url(#ah)"/>
<line x1="2289" y1="1375" x2="2770" y2="1375" marker-start="url(#ah)" marker-end="url(#ah)"/>
</g>
<line x1="2323" y1="1496" x2="2678" y2="1239" stroke="#222" stroke-width="2" stroke-dasharray="6 2" marker-start="url(#ah)" marker-end="url(#ah)"/>
<line x1="2488" y1="1375" x2="2488" y2="1310" stroke="#e53a1e" stroke-width="4" marker-end="url(#ar)"/>
<line x1="2488" y1="1375" x2="2573" y2="1316" stroke="#3a7de0" stroke-width="4" marker-end="url(#abl)"/>
<line x1="2488" y1="1375" x2="2664" y2="1324" stroke="#1f8f1f" stroke-width="3" marker-end="url(#ag)"/>
<line x1="2488" y1="1375" x2="2668" y2="1375" stroke="#f39a1e" stroke-width="3" marker-end="url(#ao)"/>
<circle cx="2488" cy="1375" r="5" fill="#1f8f1f"/>
<g class="sf" font-size="40">
<text x="2524" y="1208" class="c" fill="#e53a1e">HIST</text>
<text x="2727" y="1235" class="c" fill="#2a2ac8">TES(t)</text>
<text x="2713" y="1313" class="c" fill="#1f8f1f">PE(t)</text>
<text x="2731" y="1374" class="c" fill="#f39a1e">CS(t)</text>
</g>
<g stroke-width="3"><line x1="2467" y1="1166" x2="2581" y2="1166" stroke="#e53a1e" marker-end="url(#ar)"/><line x1="2654" y1="1195" x2="2801" y2="1195" stroke="#2a2ac8" marker-end="url(#abl)"/><line x1="2668" y1="1273" x2="2763" y2="1273" stroke="#1f8f1f" marker-end="url(#ag)"/><line x1="2682" y1="1334" x2="2777" y2="1334" stroke="#f39a1e" marker-end="url(#ao)"/></g>
<g id="p6-caption">
<rect x="2198" y="1578" width="640" height="375" fill="#fff" stroke="#444" stroke-width="3"/>
<text x="2520" y="1643" class="c sf" font-size="34" font-weight="bold">Caption</text>
<g class="sf" font-weight="bold" font-size="34" letter-spacing="2">
<text x="2216" y="1710" fill="#1f8f1f">PE(t): Pulmonary Embolism</text>
<text x="2223" y="1760" fill="#e0202a">HIST: History</text>
<text x="2216" y="1823" fill="#2a2ac8">TES(t): Thromboembolic Sd</text>
<text x="2216" y="1887" fill="#f5a030">CS(t): Cardiac Syndrome</text>
</g>
<g stroke-width="2.5"><line x1="2218" y1="1679" x2="2318" y2="1679" stroke="#1f8f1f" marker-end="url(#ag)"/><line x1="2225" y1="1729" x2="2335" y2="1729" stroke="#e53a1e" marker-end="url(#ar)"/><line x1="2214" y1="1791" x2="2348" y2="1791" stroke="#2a2ac8" marker-end="url(#abl)"/><line x1="2214" y1="1856" x2="2315" y2="1856" stroke="#f39a1e" marker-end="url(#ao)"/></g>
</g>
<text x="2520" y="2031" class="cap">Fuzzy Vector Space of</text>
<text x="2520" y="2098" class="cap">pulmonary embolism</text>
</g>
</svg>
